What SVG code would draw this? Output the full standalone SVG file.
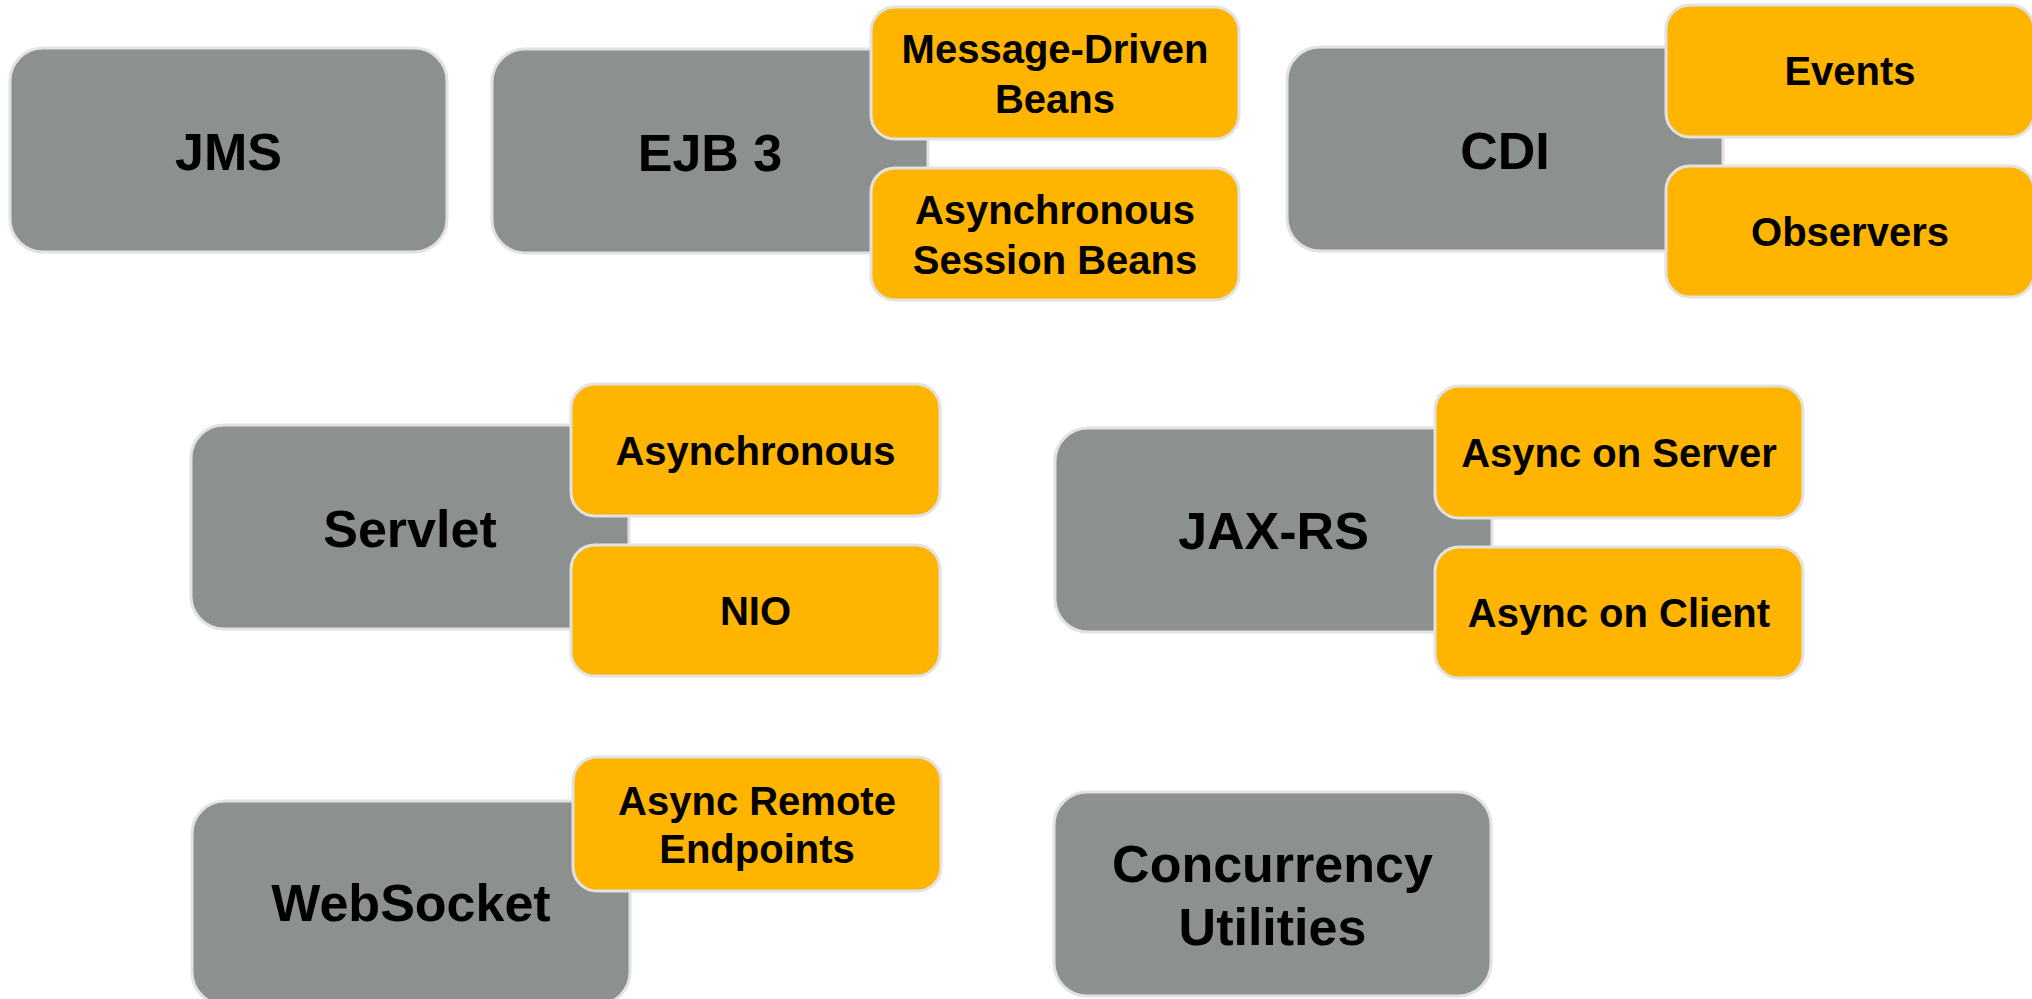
<svg xmlns="http://www.w3.org/2000/svg" width="2032" height="999" viewBox="0 0 2032 999">
<style>
.main{fill:#8C9190;stroke:#E2E2E2;stroke-width:3}
.sub{fill:#FFB400;stroke:#E2E2E2;stroke-width:3}
text{font-family:"Liberation Sans",Arial,sans-serif;font-weight:bold;fill:#000;text-anchor:middle}
.t1{font-size:52px}
.t2{font-size:40px}
</style>
<rect width="2032" height="999" fill="#fff"/>
<g id="connectors"/>
<g id="jms">
<rect class="main" x="10" y="48" width="437" height="204" rx="33"/>
<text class="t1" x="228.5" y="170">JMS</text>
</g>
<g id="ejb3">
<rect class="main" x="492" y="49" width="436" height="204" rx="33"/>
<text class="t1" x="710" y="171">EJB 3</text>
</g>
<g id="mdb">
<rect class="sub" x="871" y="7" width="368" height="132" rx="24"/>
<text class="t2" x="1055" y="63">Message-Driven</text>
<text class="t2" x="1055" y="113">Beans</text>
</g>
<g id="asb">
<rect class="sub" x="871" y="168" width="368" height="132" rx="24"/>
<text class="t2" x="1055" y="224">Asynchronous</text>
<text class="t2" x="1055" y="274">Session Beans</text>
</g>
<g id="cdi">
<rect class="main" x="1287" y="47" width="436" height="204" rx="33"/>
<text class="t1" x="1505" y="169">CDI</text>
</g>
<g id="events">
<rect class="sub" x="1666" y="5" width="368" height="132" rx="24"/>
<text class="t2" x="1850" y="85">Events</text>
</g>
<g id="observers">
<rect class="sub" x="1666" y="166" width="368" height="131" rx="24"/>
<text class="t2" x="1850" y="246">Observers</text>
</g>
<g id="servlet">
<rect class="main" x="191" y="425" width="438" height="204" rx="33"/>
<text class="t1" x="410" y="547">Servlet</text>
</g>
<g id="servlet-async">
<rect class="sub" x="571" y="384" width="369" height="132" rx="24"/>
<text class="t2" x="755.5" y="465">Asynchronous</text>
</g>
<g id="nio">
<rect class="sub" x="571" y="545" width="369" height="131" rx="24"/>
<text class="t2" x="755.5" y="625">NIO</text>
</g>
<g id="jaxrs">
<rect class="main" x="1055" y="428" width="437" height="204" rx="33"/>
<text class="t1" x="1273.5" y="549">JAX-RS</text>
</g>
<g id="async-server">
<rect class="sub" x="1435" y="386" width="368" height="132" rx="24"/>
<text class="t2" x="1619" y="467">Async on Server</text>
</g>
<g id="async-client">
<rect class="sub" x="1435" y="547" width="368" height="131" rx="24"/>
<text class="t2" x="1619" y="627">Async on Client</text>
</g>
<g id="websocket">
<rect class="main" x="192" y="801" width="438" height="204" rx="33"/>
<text class="t1" x="411" y="921">WebSocket</text>
</g>
<g id="async-remote">
<rect class="sub" x="573" y="757" width="368" height="134" rx="24"/>
<text class="t2" x="757" y="815">Async Remote</text>
<text class="t2" x="757" y="863">Endpoints</text>
</g>
<g id="concurrency">
<rect class="main" x="1054" y="792" width="437" height="204" rx="33"/>
<text class="t1" x="1272.5" y="882">Concurrency</text>
<text class="t1" x="1272.5" y="945">Utilities</text>
</g>
</svg>
